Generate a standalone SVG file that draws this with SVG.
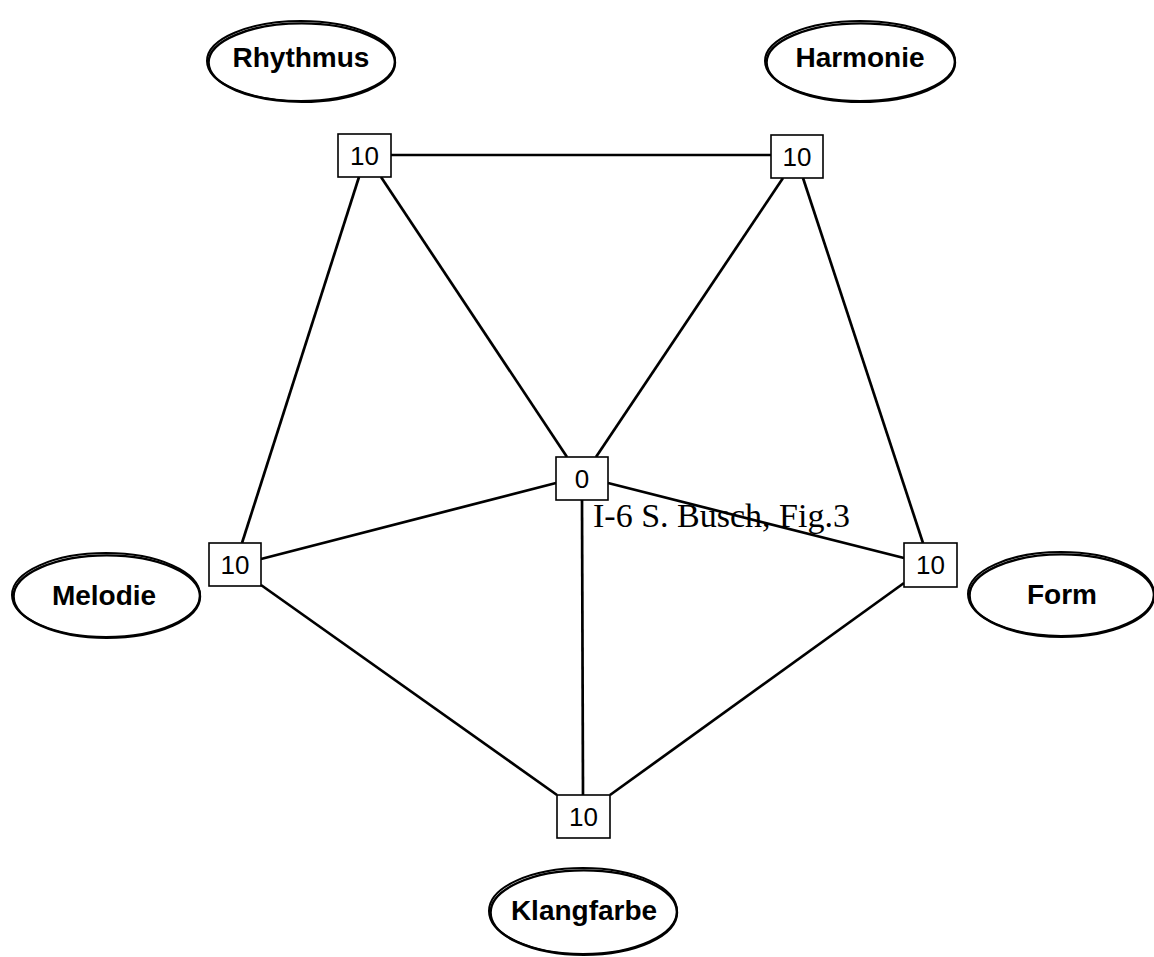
<svg xmlns="http://www.w3.org/2000/svg" width="1154" height="957" viewBox="0 0 1154 957">
  <style>
    .bg { fill: #ffffff; }
    .edge { stroke: #000; stroke-width: 2.7; stroke-linecap: butt; fill: none; }
    .box { fill: #fff; stroke: #000; stroke-width: 1.6; }
    .val { font-family: "Liberation Sans", Arial, sans-serif; font-size: 26px; fill: #000; text-anchor: middle; }
    .oval { fill: #fff; stroke: #000; stroke-width: 2; }
    .oval2 { fill: none; stroke: #000; stroke-width: 2.4; }
    .name { font-family: "Liberation Sans", Arial, sans-serif; font-weight: bold; font-size: 28px; fill: #000; text-anchor: middle; }
    .caption { font-family: "Liberation Serif", "Times New Roman", serif; font-size: 34px; fill: #000; }
  </style>

  <rect class="bg" x="0" y="0" width="1154" height="957"/>

  <!-- connectors between the value boxes -->
  <g id="connectors">
    <line class="edge" x1="391" y1="155" x2="771" y2="155"/>
    <line class="edge" x1="359" y1="177" x2="242" y2="543"/>
    <line class="edge" x1="381" y1="177" x2="567" y2="457"/>
    <line class="edge" x1="783" y1="178" x2="596" y2="457"/>
    <line class="edge" x1="803" y1="178" x2="923" y2="543"/>
    <line class="edge" x1="261" y1="559" x2="556" y2="483"/>
    <line class="edge" x1="608" y1="483" x2="904" y2="558"/>
    <line class="edge" x1="582" y1="500" x2="583" y2="795"/>
    <line class="edge" x1="261" y1="585" x2="557" y2="795"/>
    <line class="edge" x1="904" y1="583" x2="610" y2="795"/>
  </g>

  <!-- value boxes -->
  <g id="box-rhythmus">
    <rect class="box" x="338" y="134" width="53" height="43"/>
    <text class="val" x="364.5" y="165">10</text>
  </g>
  <g id="box-harmonie">
    <rect class="box" x="771" y="135" width="52" height="43"/>
    <text class="val" x="797" y="166">10</text>
  </g>
  <g id="box-center">
    <rect class="box" x="556" y="457" width="52" height="43"/>
    <text class="val" x="582" y="488">0</text>
  </g>
  <g id="box-melodie">
    <rect class="box" x="209" y="543" width="52" height="43"/>
    <text class="val" x="235" y="574">10</text>
  </g>
  <g id="box-form">
    <rect class="box" x="904" y="543" width="53" height="44"/>
    <text class="val" x="930.5" y="574">10</text>
  </g>
  <g id="box-klangfarbe">
    <rect class="box" x="557" y="795" width="53" height="43"/>
    <text class="val" x="583.5" y="826">10</text>
  </g>

  <!-- dimension labels: a second, slightly lowered outline thickens the lower rim -->
  <g id="label-rhythmus">
    <ellipse class="oval" cx="301" cy="61" rx="94" ry="40"/>
    <ellipse class="oval2" cx="301.8" cy="62.6" rx="93.2" ry="39.2"/>
    <text class="name" x="301" y="67">Rhythmus</text>
  </g>
  <g id="label-harmonie">
    <ellipse class="oval" cx="860" cy="61" rx="95" ry="40"/>
    <ellipse class="oval2" cx="860.8" cy="62.6" rx="94.2" ry="39.2"/>
    <text class="name" x="860" y="67">Harmonie</text>
  </g>
  <g id="label-melodie">
    <ellipse class="oval" cx="106" cy="595" rx="94" ry="42"/>
    <ellipse class="oval2" cx="106.8" cy="596.6" rx="93.2" ry="41.2"/>
    <text class="name" x="104" y="605">Melodie</text>
  </g>
  <g id="label-form">
    <ellipse class="oval" cx="1061" cy="594" rx="93" ry="42"/>
    <ellipse class="oval2" cx="1061.8" cy="595.6" rx="92.2" ry="41.2"/>
    <text class="name" x="1062" y="604">Form</text>
  </g>
  <g id="label-klangfarbe">
    <ellipse class="oval" cx="583" cy="911" rx="94" ry="43"/>
    <ellipse class="oval2" cx="583.8" cy="912.6" rx="93.2" ry="42.2"/>
    <text class="name" x="584" y="920">Klangfarbe</text>
  </g>

  <text class="caption" x="593" y="527">I-6 S. Busch, Fig.3</text>
</svg>
